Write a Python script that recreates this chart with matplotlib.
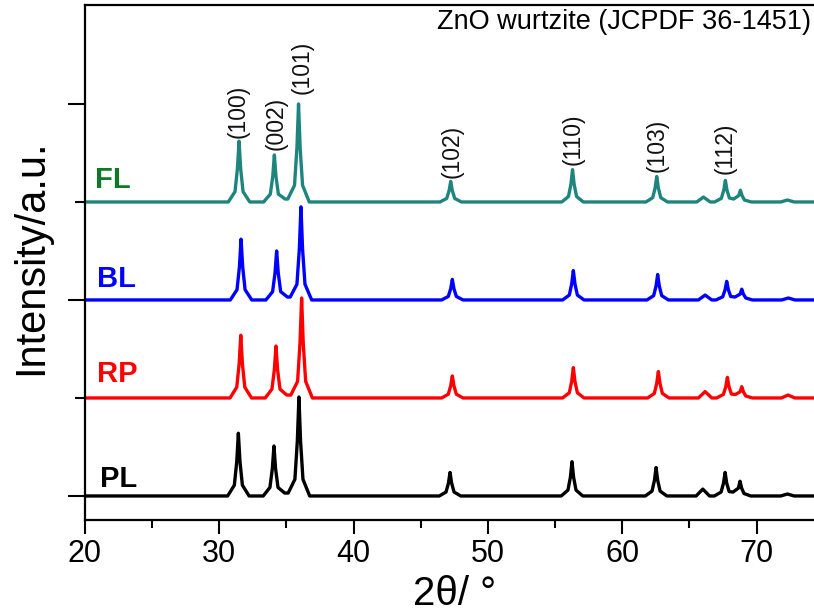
import numpy as np
import matplotlib.pyplot as plt

plt.rcParams['font.family'] = ['Liberation Sans', 'DejaVu Sans']

# (2theta, intensity) points, baseline = 0
fl_pts = [(20, 0),
          (30.67, 0), (31.17, 0.105), (31.35, 0.34), (31.47, 0.62), (31.59, 0.34), (31.77, 0.105), (32.27, 0),
          (33.30, 0), (33.80, 0.08), (33.98, 0.26), (34.10, 0.48), (34.22, 0.26), (34.40, 0.08), (34.90, 0.03),
          (35.10, 0.03), (35.60, 0.17), (35.78, 0.55), (35.90, 1.00), (36.02, 0.55), (36.20, 0.17), (36.70, 0),
          (46.43, 0), (46.93, 0.036), (47.11, 0.115), (47.23, 0.21), (47.35, 0.115), (47.53, 0.036), (48.03, 0),
          (55.50, 0), (56.00, 0.056), (56.18, 0.18), (56.30, 0.33), (56.42, 0.18), (56.60, 0.056), (57.10, 0),
          (61.77, 0), (62.27, 0.044), (62.45, 0.143), (62.57, 0.26), (62.69, 0.143), (62.87, 0.044), (63.37, 0),
          (65.55, 0), (66.05, 0.05), (66.55, 0),
          (66.88, 0), (67.38, 0.037), (67.56, 0.12), (67.68, 0.22), (67.80, 0.12), (67.98, 0.04), (68.30, 0.03),
          (68.68, 0.066), (68.80, 0.12), (68.92, 0.066), (69.10, 0.02), (69.60, 0),
          (71.80, 0), (72.30, 0.02), (72.80, 0), (75, 0)]

bl_pts = [(20, 0),
          (30.82, 0), (31.32, 0.105), (31.50, 0.34), (31.62, 0.62), (31.74, 0.34), (31.92, 0.105), (32.42, 0),
          (33.47, 0), (33.97, 0.085), (34.15, 0.275), (34.27, 0.50), (34.39, 0.275), (34.57, 0.085), (35.07, 0.03),
          (35.28, 0.03), (35.78, 0.16), (35.96, 0.52), (36.08, 0.95), (36.20, 0.52), (36.38, 0.16), (36.88, 0),
          (46.55, 0), (47.05, 0.036), (47.23, 0.115), (47.35, 0.21), (47.47, 0.115), (47.65, 0.036), (48.15, 0),
          (55.56, 0), (56.06, 0.05), (56.24, 0.165), (56.36, 0.30), (56.48, 0.165), (56.66, 0.05), (57.16, 0),
          (61.84, 0), (62.34, 0.044), (62.52, 0.143), (62.64, 0.26), (62.76, 0.143), (62.94, 0.044), (63.44, 0),
          (65.67, 0), (66.17, 0.05), (66.67, 0),
          (66.98, 0), (67.48, 0.032), (67.66, 0.105), (67.78, 0.19), (67.90, 0.105), (68.08, 0.035), (68.40, 0.03),
          (68.78, 0.06), (68.90, 0.11), (69.02, 0.06), (69.20, 0.02), (69.70, 0),
          (71.87, 0), (72.37, 0.02), (72.87, 0), (75, 0)]

rp_pts = [(20, 0),
          (30.80, 0), (31.30, 0.11), (31.48, 0.35), (31.60, 0.64), (31.72, 0.35), (31.90, 0.11), (32.40, 0),
          (33.42, 0), (33.92, 0.09), (34.10, 0.29), (34.22, 0.53), (34.34, 0.29), (34.52, 0.09), (35.02, 0.03),
          (35.33, 0.03), (35.83, 0.17), (36.01, 0.56), (36.13, 1.02), (36.25, 0.56), (36.43, 0.17), (36.93, 0),
          (46.55, 0), (47.05, 0.038), (47.23, 0.124), (47.35, 0.225), (47.47, 0.124), (47.65, 0.038), (48.15, 0),
          (55.56, 0), (56.06, 0.053), (56.24, 0.17), (56.36, 0.31), (56.48, 0.17), (56.66, 0.053), (57.16, 0),
          (61.89, 0), (62.39, 0.046), (62.57, 0.15), (62.69, 0.27), (62.81, 0.15), (62.99, 0.046), (63.49, 0),
          (65.67, 0), (66.17, 0.065), (66.67, 0),
          (67.03, 0), (67.53, 0.036), (67.71, 0.115), (67.83, 0.21), (67.95, 0.115), (68.13, 0.04), (68.42, 0.035),
          (68.78, 0.063), (68.90, 0.115), (69.02, 0.063), (69.20, 0.02), (69.70, 0),
          (71.85, 0), (72.35, 0.03), (72.85, 0), (75, 0)]

pl_pts = [(20, 0),
          (30.62, 0), (31.12, 0.11), (31.30, 0.35), (31.42, 0.64), (31.54, 0.35), (31.72, 0.11), (32.22, 0),
          (33.27, 0), (33.77, 0.087), (33.95, 0.28), (34.07, 0.51), (34.19, 0.28), (34.37, 0.087), (34.87, 0.03),
          (35.13, 0.03), (35.63, 0.17), (35.81, 0.56), (35.93, 1.01), (36.05, 0.56), (36.23, 0.17), (36.73, 0),
          (46.38, 0), (46.88, 0.04), (47.06, 0.13), (47.18, 0.24), (47.30, 0.13), (47.48, 0.04), (47.98, 0),
          (55.46, 0), (55.96, 0.06), (56.14, 0.19), (56.26, 0.35), (56.38, 0.19), (56.56, 0.06), (57.06, 0),
          (61.72, 0), (62.22, 0.05), (62.40, 0.16), (62.52, 0.29), (62.64, 0.16), (62.82, 0.05), (63.32, 0),
          (65.50, 0), (66.00, 0.07), (66.50, 0),
          (66.86, 0), (67.36, 0.04), (67.54, 0.13), (67.66, 0.24), (67.78, 0.13), (67.96, 0.045), (68.25, 0.04),
          (68.65, 0.08), (68.77, 0.15), (68.89, 0.08), (69.07, 0.025), (69.57, 0),
          (71.80, 0), (72.30, 0.02), (72.80, 0), (75, 0)]

names = ['PL', 'RP', 'BL', 'FL']
offsets = [0, 1, 2, 3]
line_colors = ['black', '#ff0000', '#0000ff', '#1d857e']
text_colors = ['black', '#ff0000', '#0000ff', '#0e7a25']
series = [pl_pts, rp_pts, bl_pts, fl_pts]

hkl = ['(100)', '(002)', '(101)', '(102)', '(110)', '(103)', '(112)']
hkl_x = [31.43, 34.22, 36.15, 47.3, 56.33, 62.57, 67.66]
hkl_y = [3.65, 3.53, 4.10, 3.24, 3.38, 3.31, 3.29]

fig = plt.figure(figsize=(8.14, 6.15), dpi=100)
ax = fig.add_axes([0.1044, 0.1545, 0.9075, 0.8374])

for pts, off, c in zip(series, offsets, line_colors):
    arr = np.array(pts)
    ax.plot(arr[:, 0], arr[:, 1] + off, color=c, lw=2.4)

label_pos = [(21.1, 0.09), (20.9, 1.165), (20.9, 2.13), (20.75, 3.14)]
for n, (lx, ly), c in zip(names, label_pos, text_colors):
    ax.text(lx, ly, n, color=c, fontsize=21, fontweight='bold', va='baseline', ha='left')

for t, x, y in zip(hkl, hkl_x, hkl_y):
    ax.text(x, y, t, rotation=90, fontsize=16.5, ha='center', va='bottom', color='#111111')

fig.text(811 / 814, 1 - 9 / 615, 'ZnO wurtzite (JCPDF 36-1451)', fontsize=19.5, ha='right', va='top')

ax.set_xlim(20, 75)
ax.set_ylim(-0.245, 5.01)
ax.set_xticks([20, 30, 40, 50, 60, 70])
ax.set_xticks([25, 35, 45, 55, 65], minor=True)
ax.set_yticks([0, 2, 4])
ax.set_yticks([1, 3], minor=True)
ax.set_yticklabels([])
ax.tick_params(axis='x', which='major', labelsize=22, length=10, width=1.5, pad=4)
ax.tick_params(axis='x', which='minor', length=6, width=1.5)
ax.tick_params(axis='y', which='major', length=12, width=1.5)
ax.tick_params(axis='y', which='minor', length=7, width=1.5)
for s in ax.spines.values():
    s.set_linewidth(1.6)

fig.text(31 / 814, 1 - 257 / 615, 'Intensity/a.u.', rotation=90, fontsize=30, ha='center', va='center')
fig.text(455 / 814, 2 / 615, '2θ/ °', fontsize=29, ha='center', va='bottom')

fig.savefig('out.png', dpi=100)
